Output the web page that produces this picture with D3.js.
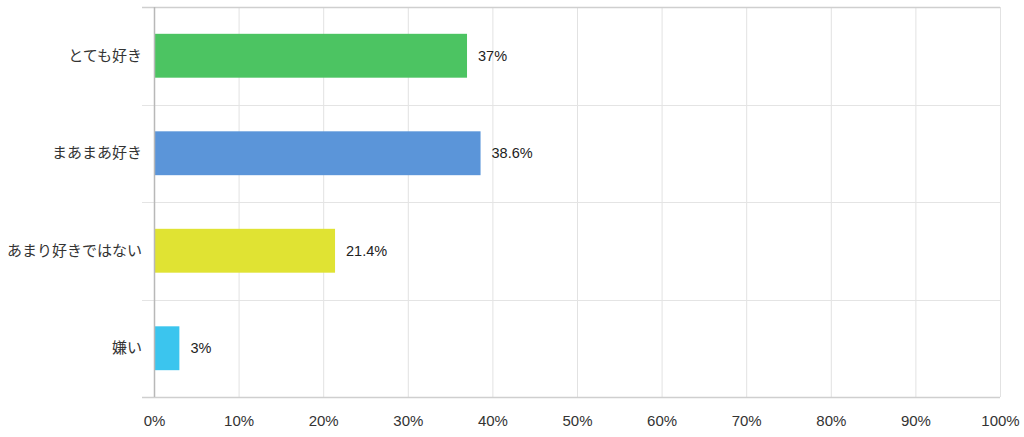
<!DOCTYPE html>
<html>
<head>
<meta charset="utf-8">
<script src="https://cdn.jsdelivr.net/npm/d3@7"></script>
<style>
  body { margin: 0; background: #fff; }
  svg { display: block; }
</style>
</head>
<body>
<div id="chart"></div>
<script>
// answers and share of respondents (%)
const categories = ["とても好き", "まあまあ好き", "あまり好きではない", "嫌い"];
const values = [37, 38.6, 21.4, 3];
const valueLabels = ["37%", "38.6%", "21.4%", "3%"];
const colors = ["#4cc462", "#5b95d9", "#e0e333", "#3bc5ee"];
const xTicks = [0, 10, 20, 30, 40, 50, 60, 70, 80, 90, 100];

const width = 1024;
const height = 437;
const margin = { top: 7, right: 24, bottom: 40, left: 154 };

const svg = d3.select("#chart")
    .append("svg")
    .attr("width", width)
    .attr("height", height);

const x = d3.scaleLinear()
    .domain([0, 100])
    .range([margin.left, width - margin.right]);

const y = d3.scaleBand()
    .domain(categories)
    .range([margin.top, height - margin.bottom])
    .paddingInner(0.55)
    .paddingOuter(0.275);

const yBand = d3.scaleBand()
    .domain(categories)
    .range([margin.top, height - margin.bottom]);

const font = "Arial, 'Liberation Sans', 'Noto Sans CJK JP', sans-serif";

// vertical gridlines
svg.append("g")
    .selectAll("line")
    .data(xTicks.slice(1))
    .enter().append("line")
    .attr("x1", d => x(d) + 0.5)
    .attr("x2", d => x(d) + 0.5)
    .attr("y1", margin.top)
    .attr("y2", height - margin.bottom)
    .attr("stroke", "#e2e2e2")
    .attr("stroke-width", 1);

// horizontal separators between categories (plus top and bottom)
const seps = categories.map(c => yBand(c)).concat([height - margin.bottom]);
svg.append("g")
    .selectAll("line")
    .data(seps)
    .enter().append("line")
    .attr("x1", margin.left - 12)
    .attr("x2", width - margin.right)
    .attr("y1", d => Math.round(d) + 0.5)
    .attr("y2", d => Math.round(d) + 0.5)
    .attr("stroke", (d, i) => (i === 0 || i === seps.length - 1) ? "#cfcfcf" : "#e4e4e4")
    .attr("stroke-width", (d, i) => (i === 0 || i === seps.length - 1) ? 1.5 : 1);

// bars
svg.append("g")
    .selectAll("rect")
    .data(values)
    .enter().append("rect")
    .attr("x", x(0))
    .attr("y", (d, i) => y(categories[i]))
    .attr("width", d => x(d) - x(0))
    .attr("height", y.bandwidth())
    .attr("fill", (d, i) => colors[i]);

// value axis line at 0
svg.append("line")
    .attr("x1", x(0) + 0.5)
    .attr("x2", x(0) + 0.5)
    .attr("y1", margin.top)
    .attr("y2", height - margin.bottom)
    .attr("stroke", "#b8b8b8")
    .attr("stroke-width", 1.5);

// value labels
svg.append("g")
    .selectAll("text")
    .data(values)
    .enter().append("text")
    .attr("x", d => x(d) + 11)
    .attr("y", (d, i) => y(categories[i]) + y.bandwidth() / 2)
    .attr("dy", "0.35em")
    .attr("font-family", font)
    .attr("font-size", 14.5)
    .attr("fill", "#222")
    .text((d, i) => valueLabels[i]);

// category labels
const yAxis = svg.append("g")
    .attr("transform", `translate(${margin.left - 12},0)`)
    .call(d3.axisLeft(yBand).tickSize(0).tickPadding(0));
yAxis.select(".domain").remove();
yAxis.selectAll("text")
    .attr("font-family", font)
    .attr("font-size", 15)
    .attr("fill", "#333");

// x axis tick labels
const xAxis = svg.append("g")
    .attr("transform", `translate(0,${height - margin.bottom})`)
    .call(d3.axisBottom(x).tickValues(xTicks).tickSize(0).tickPadding(18).tickFormat(d => d + "%"));
xAxis.select(".domain").remove();
xAxis.selectAll("text")
    .attr("font-family", font)
    .attr("font-size", 15)
    .attr("fill", "#333");
</script>
</body>
</html>
